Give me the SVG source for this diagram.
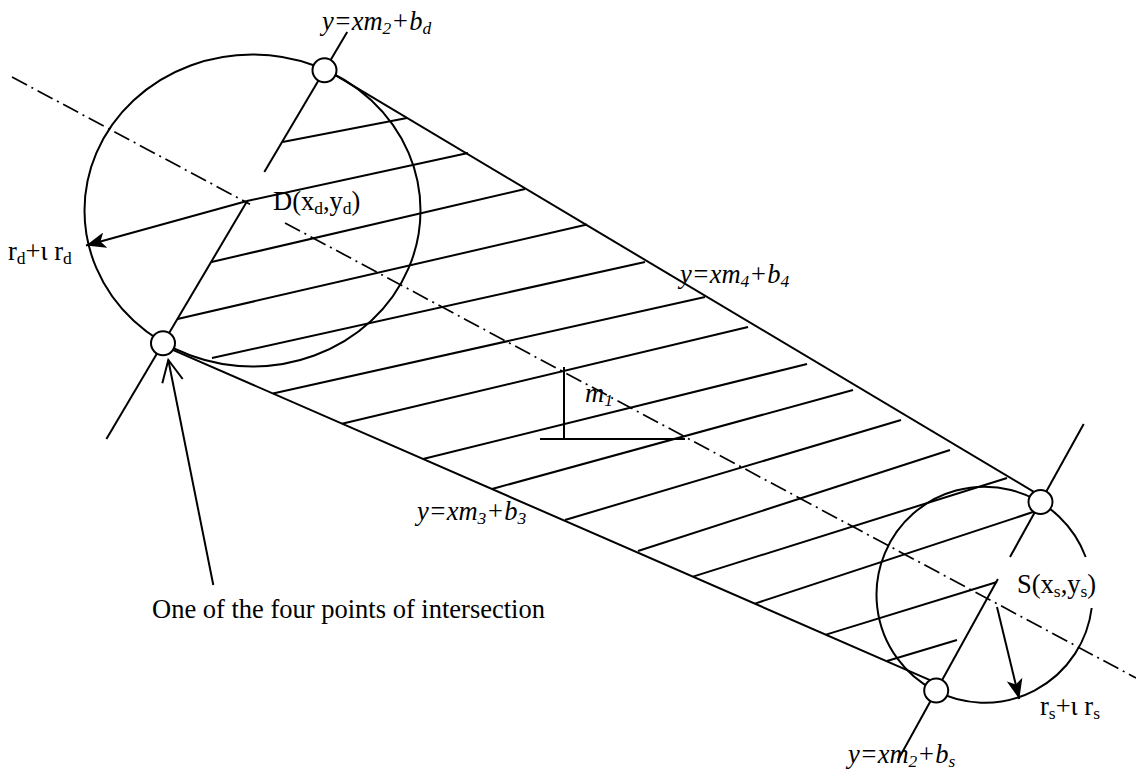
<svg xmlns="http://www.w3.org/2000/svg" width="1136" height="776" viewBox="0 0 1136 776">
<defs>
<style>
.ln{stroke:#000;stroke-width:2;fill:none}
.cl{stroke:#000;stroke-width:1.7;fill:none;stroke-dasharray:17 5 2 5}
.big{stroke:#000;stroke-width:2;fill:none}
.node{fill:#fff;stroke:#000;stroke-width:2}
.t{font-family:"Liberation Serif","Times New Roman",serif;font-size:26.5px;fill:#000}
.i{font-style:italic}
.s{font-size:17.5px}
</style>
<marker id="ah" viewBox="0 0 20 16" refX="20" refY="8" markerWidth="20" markerHeight="16" orient="auto" markerUnits="userSpaceOnUse">
<path d="M0,0 L20,8 L0,16 L5,8 Z" fill="#000"/>
</marker>
</defs>
<rect width="1136" height="776" fill="#fff"/>

<g id="circle-D">
<ellipse class="big" cx="252.5" cy="210.5" rx="168" ry="156"/>
</g>
<g id="circle-S">
<path class="big" d="M1091.7,608 A108,108 0 1 1 1085.7,557"/>
</g>

<g id="connectors">
<line class="cl" x1="12" y1="77" x2="250" y2="204.3"/>
<line class="cl" x1="285" y1="223" x2="1136" y2="678"/>
<line class="ln" x1="324.5" y1="68.7" x2="1040.5" y2="495.8"/>
<line class="ln" x1="163" y1="345.6" x2="934" y2="681.8"/>
<line class="ln" x1="347.2" y1="32" x2="264.3" y2="172"/>
<line class="ln" x1="247.2" y1="201" x2="106.4" y2="439"/>
<line class="ln" x1="1083.7" y1="424" x2="1010" y2="557"/>
<line class="ln" x1="997.9" y1="579" x2="898" y2="760"/>
<line class="ln" x1="282.5" y1="142" x2="407" y2="118"/>
<line class="ln" x1="247" y1="201" x2="468" y2="153"/>
<line class="ln" x1="211.5" y1="262" x2="525" y2="189"/>
<line class="ln" x1="177.5" y1="319" x2="587" y2="224.5"/>
<line class="ln" x1="212" y1="358" x2="645" y2="262"/>
<line class="ln" x1="273" y1="393.6" x2="705" y2="297"/>
<line class="ln" x1="342" y1="423.7" x2="748" y2="327"/>
<line class="ln" x1="423" y1="459" x2="807" y2="364"/>
<line class="ln" x1="492" y1="489" x2="853" y2="390"/>
<line class="ln" x1="565" y1="520" x2="901" y2="420"/>
<line class="ln" x1="638" y1="551" x2="950" y2="450"/>
<line class="ln" x1="693" y1="576.6" x2="1007" y2="478"/>
<line class="ln" x1="755" y1="603.6" x2="1033" y2="512"/>
<line class="ln" x1="826" y1="634.6" x2="997" y2="582"/>
<line class="ln" x1="887" y1="661" x2="957" y2="640"/>
<line class="ln" x1="564" y1="367" x2="564" y2="439"/>
<line class="ln" x1="540" y1="439" x2="685" y2="439"/>
<line class="ln" x1="247" y1="201" x2="86" y2="245.5" marker-end="url(#ah)"/>
<line class="ln" x1="997" y1="607" x2="1019.3" y2="699" marker-end="url(#ah)"/>
<line class="ln" x1="213.3" y1="585" x2="168.3" y2="360"/>
<polyline class="ln" points="162.3,383.3 168.3,360 182.7,379"/>
</g>

<g id="node-top-left"><circle class="node" cx="324.5" cy="70.3" r="12"/></g>
<g id="node-bottom-left"><circle class="node" cx="163" cy="343.3" r="12"/></g>
<g id="node-top-right"><circle class="node" cx="1040.5" cy="502" r="12"/></g>
<g id="node-bottom-right"><circle class="node" cx="936.2" cy="690.5" r="12"/></g>

<g id="labels">
<text class="t i" x="322" y="30">y=xm<tspan class="s" dy="4">2</tspan><tspan dy="-4">+b</tspan><tspan class="s" dy="4">d</tspan></text>
<text class="t" x="273" y="210">D(x<tspan class="s" dy="4">d</tspan><tspan dy="-4">,y</tspan><tspan class="s" dy="4">d</tspan><tspan dy="-4">)</tspan></text>
<text class="t" x="8" y="260">r<tspan class="s" dy="4">d</tspan><tspan dy="-4">+ι r</tspan><tspan class="s" dy="4">d</tspan></text>
<text class="t i" x="680" y="283">y=xm<tspan class="s" dy="4">4</tspan><tspan dy="-4">+b</tspan><tspan class="s" dy="4">4</tspan></text>
<text class="t i" x="585" y="402">m<tspan class="s" dy="4">1</tspan></text>
<text class="t i" x="417" y="520">y=xm<tspan class="s" dy="4">3</tspan><tspan dy="-4">+b</tspan><tspan class="s" dy="4">3</tspan></text>
<text class="t" x="152" y="618">One of the four points of intersection</text>
<text class="t" x="1017" y="593">S(x<tspan class="s" dy="4">s</tspan><tspan dy="-4">,y</tspan><tspan class="s" dy="4">s</tspan><tspan dy="-4">)</tspan></text>
<text class="t" x="1040" y="715">r<tspan class="s" dy="4">s</tspan><tspan dy="-4">+ι r</tspan><tspan class="s" dy="4">s</tspan></text>
<text class="t i" x="848" y="763">y=xm<tspan class="s" dy="4">2</tspan><tspan dy="-4">+b</tspan><tspan class="s" dy="4">s</tspan></text>
</g>
</svg>
